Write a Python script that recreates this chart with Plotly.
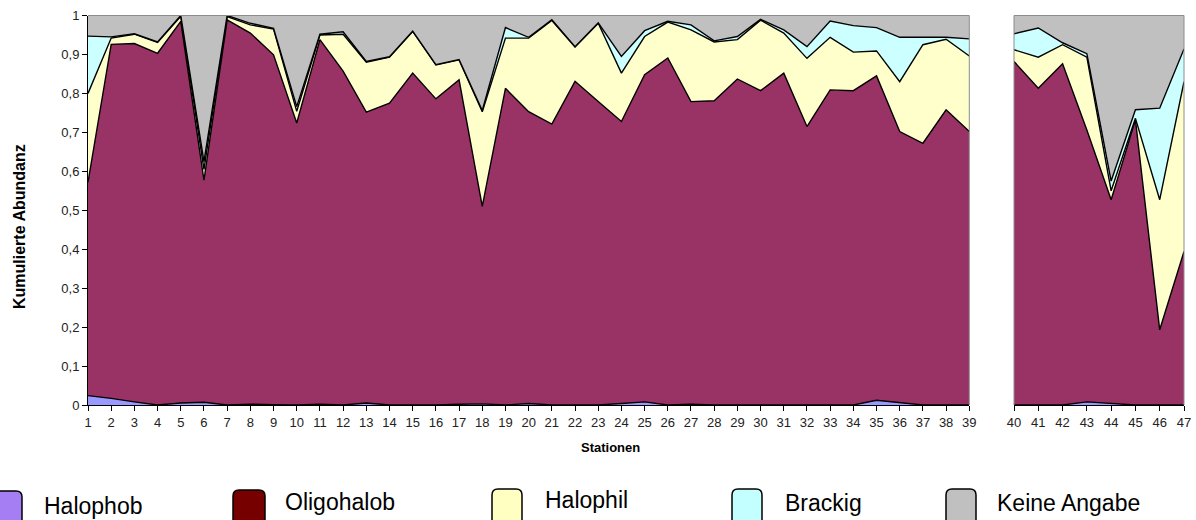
import plotly.graph_objects as go

# ---------------- data (fractions of total abundance per station) ----------------
stations_left = list(range(1, 40))
stations_right = list(range(40, 48))

halophob = [0.024, 0.017, 0.008, 0.000, 0.005, 0.007, 0.000, 0.002, 0.001, 0.000,
            0.002, 0.000, 0.005, 0.000, 0.000, 0.000, 0.002, 0.003, 0.000, 0.004,
            0.000, 0.000, 0.000, 0.004, 0.008, 0.000, 0.002, 0.000, 0.000, 0.000,
            0.000, 0.000, 0.000, 0.000, 0.012, 0.006, 0.000, 0.000, 0.000,
            0.000, 0.000, 0.000, 0.008, 0.004, 0.000, 0.000, 0.000]
oligohalob = [0.548, 0.909, 0.920, 0.903, 0.980, 0.570, 0.989, 0.953, 0.898, 0.724,
              0.936, 0.857, 0.747, 0.775, 0.852, 0.786, 0.833, 0.507, 0.813, 0.749,
              0.721, 0.831, 0.779, 0.724, 0.840, 0.891, 0.777, 0.781, 0.837, 0.807,
              0.852, 0.715, 0.809, 0.807, 0.833, 0.696, 0.672, 0.758, 0.702,
              0.882, 0.813, 0.876, 0.698, 0.523, 0.732, 0.193, 0.394]
halophil = [0.228, 0.016, 0.024, 0.028, 0.013, 0.028, 0.008, 0.021, 0.066, 0.030,
            0.012, 0.095, 0.128, 0.118, 0.107, 0.087, 0.051, 0.243, 0.129, 0.189,
            0.266, 0.088, 0.201, 0.124, 0.098, 0.092, 0.184, 0.151, 0.101, 0.181,
            0.103, 0.175, 0.135, 0.099, 0.064, 0.128, 0.253, 0.181, 0.194,
            0.030, 0.080, 0.049, 0.187, 0.023, 0.004, 0.334, 0.436]
brackig = [0.147, 0.003, 0.001, 0.001, 0.002, 0.020, 0.003, 0.004, 0.002, 0.012,
           0.002, 0.006, 0.002, 0.001, 0.001, 0.001, 0.001, 0.003, 0.027, 0.002,
           0.002, 0.001, 0.001, 0.043, 0.015, 0.002, 0.013, 0.003, 0.008, 0.002,
           0.008, 0.030, 0.042, 0.068, 0.060, 0.114, 0.019, 0.005, 0.044,
           0.041, 0.075, 0.005, 0.009, 0.025, 0.022, 0.235, 0.084]
keine_angabe = [0.053, 0.055, 0.047, 0.068, 0.000, 0.375, 0.000, 0.020, 0.033, 0.234,
                0.048, 0.042, 0.118, 0.106, 0.040, 0.126, 0.113, 0.244, 0.031, 0.056,
                0.011, 0.080, 0.019, 0.105, 0.039, 0.015, 0.024, 0.065, 0.054, 0.010,
                0.037, 0.080, 0.014, 0.026, 0.031, 0.056, 0.056, 0.056, 0.060,
                0.047, 0.032, 0.070, 0.098, 0.425, 0.242, 0.238, 0.086]

series_names = ["Halophob", "Oligohalob", "Halophil", "Brackig", "Keine Angabe"]
series_values = [halophob, oligohalob, halophil, brackig, keine_angabe]
area_colors = ["#9999FF", "#993366", "#FFFFCC", "#CCFFFF", "#C0C0C0"]
legend_colors = ["#A47EF2", "#760000", "#FFFFC2", "#C4FFFF", "#C0C0C0"]

y_tickvals = [0, 0.1, 0.2, 0.3, 0.4, 0.5, 0.6, 0.7, 0.8, 0.9, 1]
y_ticktext = ["0", "0,1", "0,2", "0,3", "0,4", "0,5", "0,6", "0,7", "0,8", "0,9", "1"]

# ---------------- figure ----------------
W, H = 1196, 520
FONT = "Liberation Sans, Arial, sans-serif"


def px_x(v):
    return v / W


def px_y(v):
    return 1 - v / H


fig = go.Figure()
n_left = len(stations_left)
for name, vals, col in zip(series_names, series_values, area_colors):
    last = name == "Keine Angabe"
    line = dict(color="#000000", width=1.4) if not last else dict(color="#808080", width=0.5)
    fig.add_trace(go.Scatter(
        x=stations_left, y=vals[:n_left], name=name, stackgroup="left",
        mode="lines", line=line, fillcolor=col, showlegend=False,
        xaxis="x", yaxis="y"))
    fig.add_trace(go.Scatter(
        x=stations_right, y=vals[n_left:], name=name, stackgroup="right",
        mode="lines", line=line, fillcolor=col, showlegend=False,
        xaxis="x2", yaxis="y2"))

tick_font = dict(family=FONT, size=13, color="#222222")
ydom = [px_y(405), px_y(15.5)]

fig.update_layout(
    width=W, height=H, autosize=False,
    margin=dict(l=0, r=0, t=0, b=0, pad=0, autoexpand=False),
    paper_bgcolor="white", plot_bgcolor="white",
    xaxis=dict(domain=[px_x(88), px_x(969.3)], range=[1, 39],
               tickvals=stations_left, ticktext=[str(s) for s in stations_left],
               ticks="outside", ticklen=5, tickcolor="#000000",
               showline=True, linecolor="#000000", linewidth=1, automargin=False,
               showgrid=False, zeroline=False, tickfont=tick_font, anchor="y"),
    yaxis=dict(domain=ydom, range=[0, 1],
               tickvals=y_tickvals, ticktext=y_ticktext,
               ticks="outside", ticklen=5, tickcolor="#000000",
               showline=True, linecolor="#000000", linewidth=1, automargin=False,
               showgrid=False, zeroline=False, tickfont=tick_font, anchor="x"),
    xaxis2=dict(domain=[px_x(1014), px_x(1184)], range=[40, 47],
                tickvals=stations_right, ticktext=[str(s) for s in stations_right],
                ticks="outside", ticklen=5, tickcolor="#000000",
                showline=True, linecolor="#000000", linewidth=1, automargin=False,
                showgrid=False, zeroline=False, tickfont=tick_font, anchor="y2"),
    yaxis2=dict(domain=ydom, range=[0, 1], showticklabels=False, ticks="",
                automargin=False,
                showline=False, showgrid=False, zeroline=False, anchor="x2"),
)

shapes = []
# plot-area borders (grey)
for x0, x1 in [(88, 969.3), (1014, 1184)]:
    shapes.append(dict(type="line", xref="paper", yref="paper",
                       x0=px_x(x0), x1=px_x(x1), y0=px_y(15.5), y1=px_y(15.5),
                       line=dict(color="#8C8C8C", width=1), layer="above"))
    shapes.append(dict(type="line", xref="paper", yref="paper",
                       x0=px_x(x1), x1=px_x(x1), y0=px_y(15.5), y1=px_y(405),
                       line=dict(color="#8C8C8C", width=1), layer="above"))
shapes.append(dict(type="line", xref="paper", yref="paper",
                   x0=px_x(1014), x1=px_x(1014), y0=px_y(15.5), y1=px_y(405),
                   line=dict(color="#8C8C8C", width=1), layer="above"))


def rounded_rect(x0, y0, x1, y1, r):
    X0, X1 = px_x(x0), px_x(x1)
    rx, ry = r / W, r / H
    Y0, Y1 = px_y(y1), px_y(y0)  # Y0 bottom, Y1 top in paper coords
    return (f"M {X0 + rx},{Y1} L {X1 - rx},{Y1} Q {X1},{Y1} {X1},{Y1 - ry} "
            f"L {X1},{Y0 + ry} Q {X1},{Y0} {X1 - rx},{Y0} L {X0 + rx},{Y0} "
            f"Q {X0},{Y0} {X0},{Y0 + ry} L {X0},{Y1 - ry} Q {X0},{Y1} {X0 + rx},{Y1} Z")


legend_boxes = [(-10, 491, 22), (233, 490, 265), (492, 489, 522), (732, 489, 762), (946, 489, 976)]
legend_text = [(42, 506), (283, 502), (543, 500), (783, 503), (995, 503)]
annotations = []
for (bx0, by0, bx1), (tx, ty), name, col in zip(legend_boxes, legend_text, series_names, legend_colors):
    shapes.append(dict(type="path", xref="paper", yref="paper",
                       path=rounded_rect(bx0, by0, bx1, 526, 6),
                       fillcolor=col, line=dict(color="#000000", width=1.5)))
    annotations.append(dict(text=name, xref="paper", yref="paper",
                            x=px_x(tx), y=px_y(ty), xanchor="left", yanchor="middle",
                            showarrow=False,
                            font=dict(family=FONT, size=23, color="#000000")))

annotations.append(dict(text="<b>Stationen</b>", xref="paper", yref="paper",
                        x=px_x(610), y=px_y(447), xanchor="center", yanchor="middle",
                        showarrow=False,
                        font=dict(family=FONT, size=13, color="#000000")))
annotations.append(dict(text="<b>Kumulierte Abundanz</b>", xref="paper", yref="paper",
                        x=px_x(19), y=px_y(227), xanchor="center", yanchor="middle",
                        textangle=-90, showarrow=False,
                        font=dict(family=FONT, size=16, color="#000000")))

fig.update_layout(shapes=shapes, annotations=annotations)
fig.write_html("out.html",
               config={"displayModeBar": False},
               post_script="document.body.style.margin='0';document.body.style.overflow='hidden';")
